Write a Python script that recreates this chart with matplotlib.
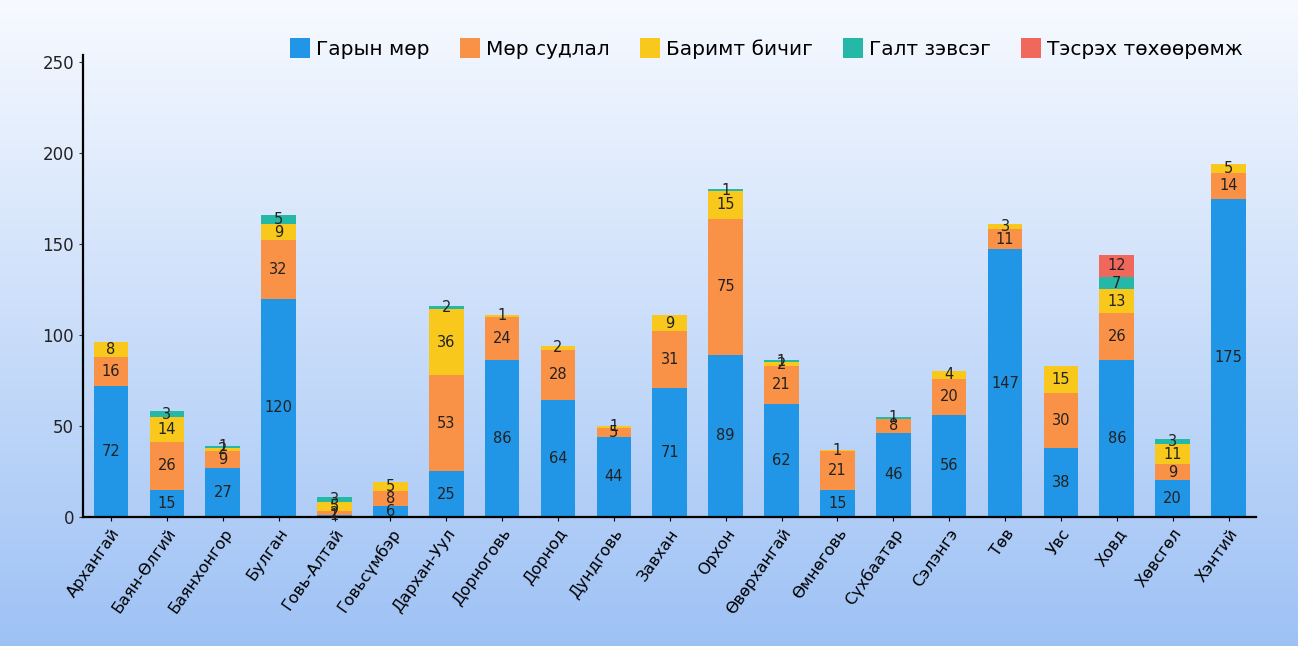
import numpy as np
import matplotlib.pyplot as plt

aimags = ['Архангай', 'Баян-Өлгий', 'Баянхонгор', 'Булган', 'Говь-Алтай', 'Говьсүмбэр',
          'Дархан-Уул', 'Дорноговь', 'Дорнод', 'Дундговь', 'Завхан', 'Орхон', 'Өвөрхангай',
          'Өмнөговь', 'Сүхбаатар', 'Сэлэнгэ', 'Төв', 'Увс', 'Ховд', 'Хөвсгөл', 'Хэнтий']

garyn_mor = [72, 15, 27, 120, 1, 6, 25, 86, 64, 44, 71, 89, 62, 15, 46, 56, 147, 38, 86, 20, 175]
mor_sudlal = [16, 26, 9, 32, 2, 8, 53, 24, 28, 5, 31, 75, 21, 21, 8, 20, 11, 30, 26, 9, 14]
barimt = [8, 14, 2, 9, 5, 5, 36, 1, 2, 1, 9, 15, 2, 1, 0, 4, 3, 15, 13, 11, 5]
galt = [0, 3, 1, 5, 3, 0, 2, 0, 0, 0, 0, 1, 1, 0, 1, 0, 0, 0, 7, 3, 0]
tesrekh = [0, 0, 0, 0, 0, 0, 0, 0, 0, 0, 0, 0, 0, 0, 0, 0, 0, 0, 12, 0, 0]

series = [('Гарын мөр', garyn_mor, '#2196e6'),
          ('Мөр судлал', mor_sudlal, '#f99147'),
          ('Баримт бичиг', barimt, '#f8c81c'),
          ('Галт зэвсэг', galt, '#25b8a6'),
          ('Тэсрэх төхөөрөмж', tesrekh, '#f0675c')]

fig = plt.figure(figsize=(12.98, 6.46), dpi=100)

# gradient background
bg = fig.add_axes([0, 0, 1, 1])
grad = np.linspace(0, 1, 256).reshape(-1, 1)
top = np.array([0.97, 0.98, 1.0])
bot = np.array([0.62, 0.76, 0.96])
img = top + (bot - top) * grad[:, :, None]
bg.imshow(img, aspect='auto', extent=[0, 1, 0, 1])
bg.axis('off')

ax = fig.add_axes([0.064, 0.2, 0.904, 0.715])
ax.patch.set_alpha(0)

x = np.arange(len(aimags))
bottom = np.zeros(len(aimags))
for name, vals, col in series:
    vals = np.array(vals)
    ax.bar(x, vals, 0.62, bottom=bottom, color=col, label=name)
    for xi, b, v in zip(x, bottom, vals):
        if v > 0:
            ax.text(xi, b + v / 2, str(v), ha='center', va='center', fontsize=10.5, color='#222222')
    bottom += vals

ax.set_xlim(-0.5, 20.5)
ax.set_ylim(0, 254)
ax.set_yticks([0, 50, 100, 150, 200, 250])
ax.tick_params(axis='y', labelsize=12, length=3, color='#333333', labelcolor='#222222')
ax.tick_params(axis='x', length=3)
ax.set_xticks(x)
ax.set_xticklabels(aimags, rotation=55, ha='right', rotation_mode='anchor', fontsize=11.5)
for s in ['top', 'right']:
    ax.spines[s].set_visible(False)
ax.spines['left'].set_linewidth(1.6)
ax.spines['bottom'].set_linewidth(1.6)

ax.legend(loc='upper right', bbox_to_anchor=(1.004, 1.075), ncol=5, frameon=False,
          fontsize=14.5, handlelength=1.0, handleheight=1.1, handletextpad=0.3, columnspacing=1.5)

plt.savefig('out.png')
